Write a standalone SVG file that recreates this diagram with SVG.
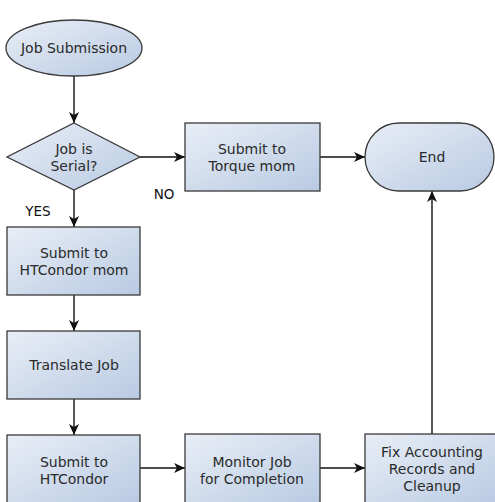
<svg xmlns="http://www.w3.org/2000/svg" width="495" height="502" viewBox="0 0 495 502">
<style>
.shape{fill:url(#g);stroke:#3a3a3a;stroke-width:1.3}
.t{font-family:"DejaVu Sans",sans-serif;font-size:14px;fill:#2a2a2a;text-anchor:middle}
.lbl{font-family:"DejaVu Sans",sans-serif;font-size:13.5px;fill:#111;text-anchor:middle}
.c{stroke:#111;stroke-width:1.4;fill:none;marker-end:url(#a)}
</style>
<defs>
<linearGradient id="g" x1="0" y1="0" x2="1" y2="1">
<stop offset="0" stop-color="#e9eef6"/>
<stop offset="1" stop-color="#b8cae3"/>
</linearGradient>
<marker id="a" markerWidth="12" markerHeight="10" refX="11" refY="5" orient="auto" markerUnits="userSpaceOnUse">
<path d="M0,0 L11,5 L0,10 L3,5 Z" fill="#111"/>
</marker>
</defs>
<rect width="495" height="502" fill="#fff"/>
<g id="connectors">
<line class="c" x1="74" y1="76" x2="74" y2="123"/>
<line class="c" x1="140" y1="157" x2="185" y2="157"/>
<line class="c" x1="320" y1="157" x2="365" y2="157"/>
<line class="c" x1="74" y1="190" x2="74" y2="227"/>
<line class="c" x1="74" y1="295" x2="74" y2="331"/>
<line class="c" x1="74" y1="399" x2="74" y2="435"/>
<line class="c" x1="140" y1="468" x2="185" y2="468"/>
<line class="c" x1="320" y1="468" x2="365" y2="468"/>
<line class="c" x1="432" y1="434" x2="432" y2="191"/>
<text class="lbl" x="164" y="199">NO</text>
<text class="lbl" x="38" y="216">YES</text>
</g>
<g id="start">
<ellipse class="shape" cx="74" cy="48" rx="68" ry="28"/>
<text class="t" x="74" y="53">Job Submission</text>
</g>
<g id="decision">
<polygon class="shape" points="74,123 140,157 74,190 7,157"/>
<text class="t" x="74" y="154">Job is</text>
<text class="t" x="74" y="171">Serial?</text>
</g>
<g id="torque">
<rect class="shape" x="185" y="123" width="135" height="68"/>
<text class="t" x="252" y="154">Submit to</text>
<text class="t" x="252" y="171">Torque mom</text>
</g>
<g id="end">
<rect class="shape" x="365" y="123" width="129" height="68" rx="34" ry="34"/>
<text class="t" x="432" y="162">End</text>
</g>
<g id="htcondor-mom">
<rect class="shape" x="7" y="227" width="133" height="68"/>
<text class="t" x="74" y="258">Submit to</text>
<text class="t" x="74" y="275">HTCondor mom</text>
</g>
<g id="translate">
<rect class="shape" x="7" y="331" width="133" height="68"/>
<text class="t" x="74" y="370">Translate Job</text>
</g>
<g id="submit-htcondor">
<rect class="shape" x="7" y="435" width="133" height="70"/>
<text class="t" x="74" y="467">Submit to</text>
<text class="t" x="74" y="484">HTCondor</text>
</g>
<g id="monitor">
<rect class="shape" x="185" y="434" width="135" height="71"/>
<text class="t" x="252" y="467">Monitor Job</text>
<text class="t" x="252" y="484">for Completion</text>
</g>
<g id="fix">
<rect class="shape" x="365" y="434" width="135" height="71"/>
<text class="t" x="432" y="457">Fix Accounting</text>
<text class="t" x="432" y="474">Records and</text>
<text class="t" x="432" y="491">Cleanup</text>
</g>
</svg>
